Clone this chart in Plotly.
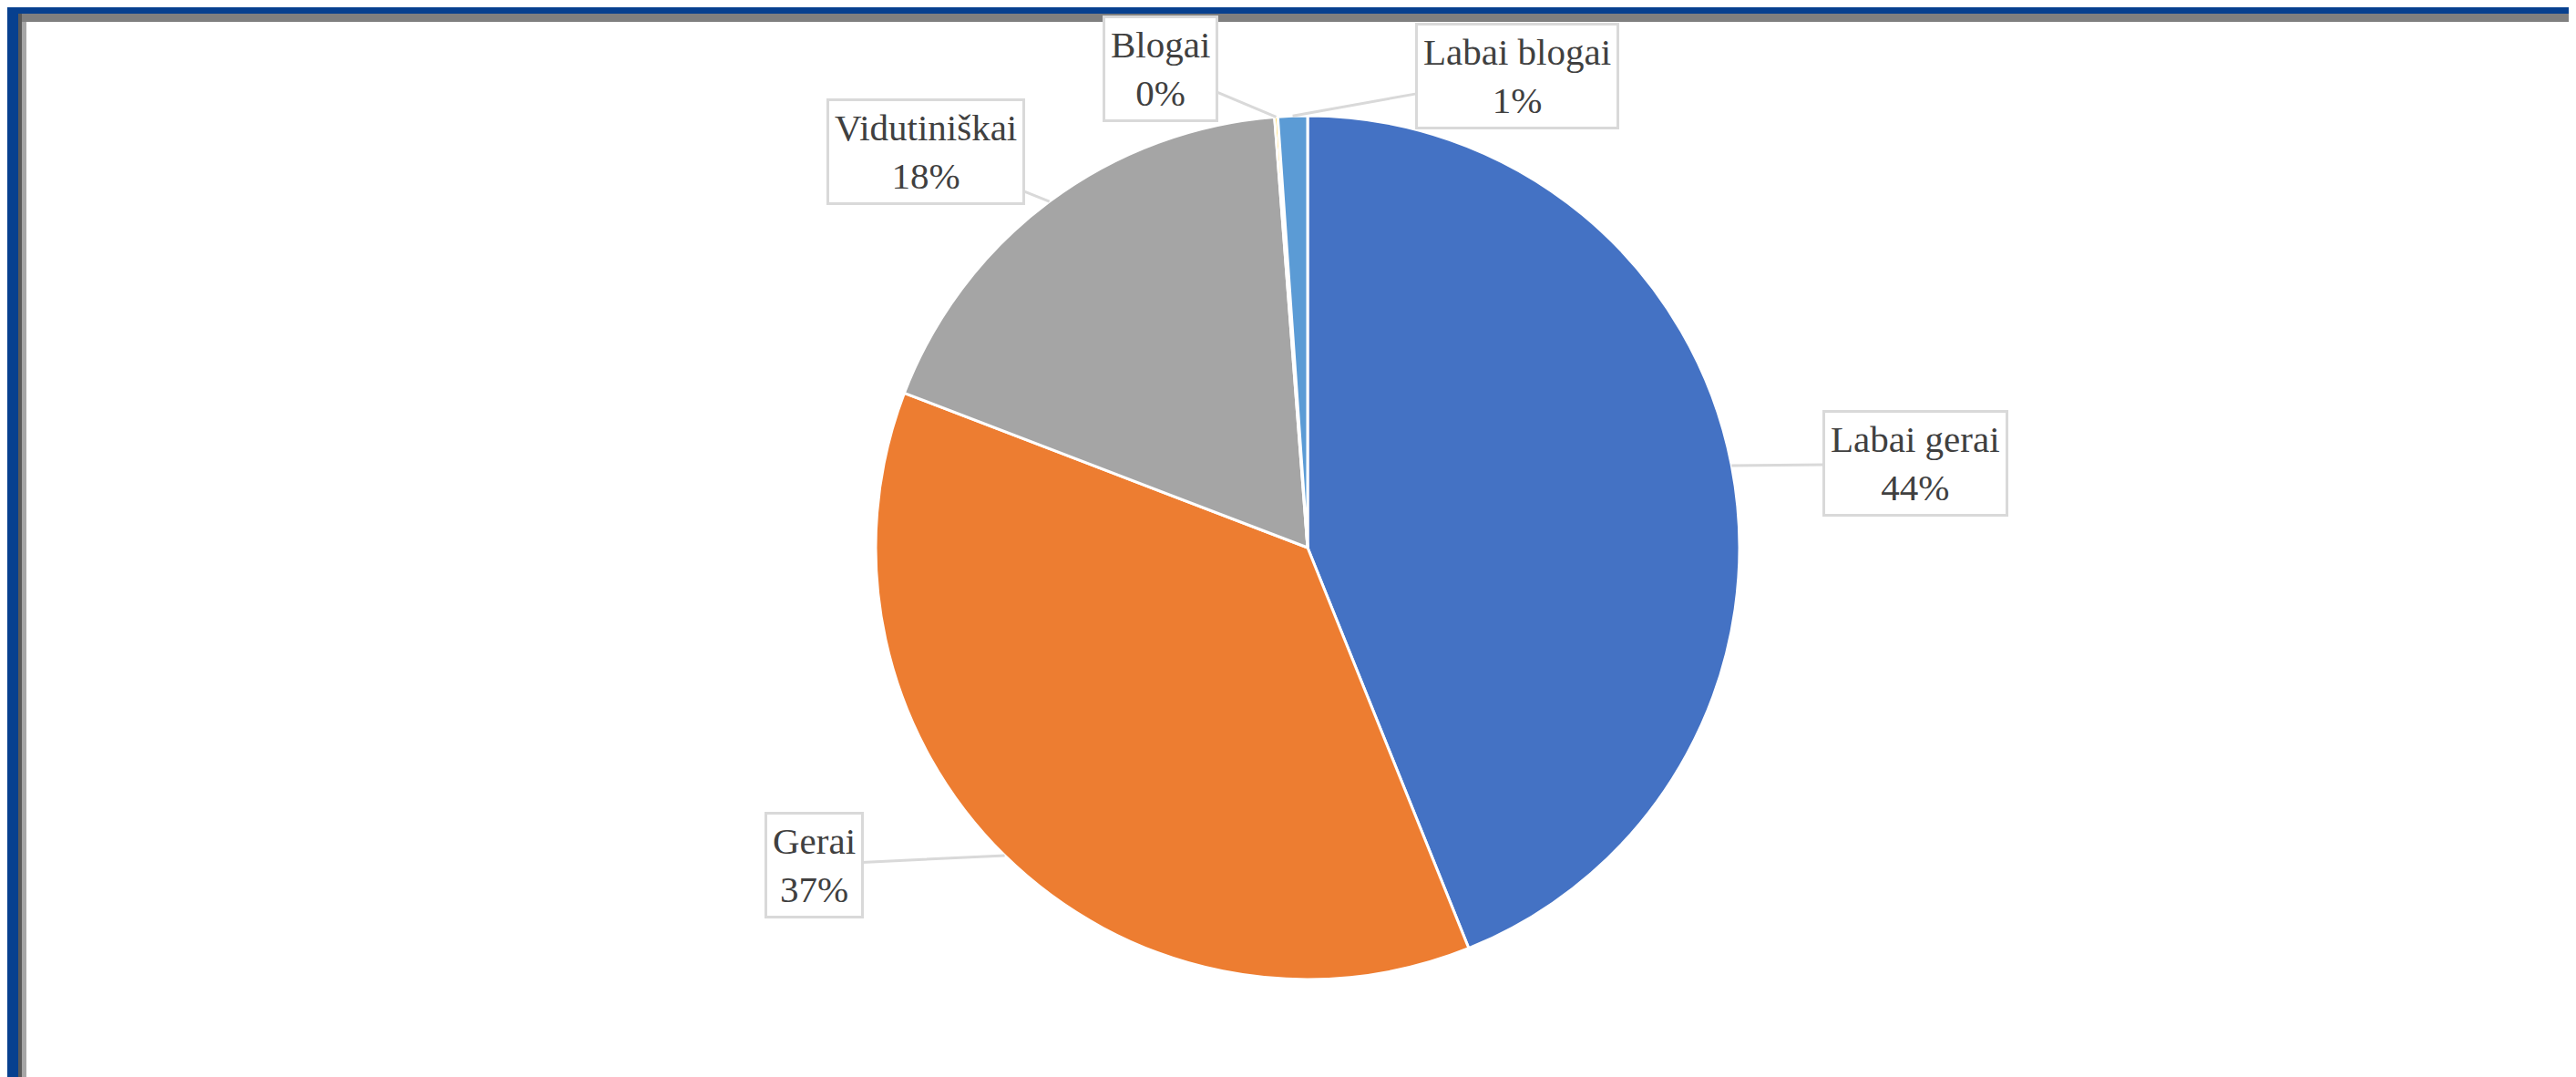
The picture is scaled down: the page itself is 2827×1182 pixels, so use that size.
import math
import plotly.graph_objects as go

# data (share of answers, %)
labels = ["Labai gerai", "Gerai", "Vidutiniškai", "Blogai", "Labai blogai"]
values = [43.9, 36.9, 17.95, 0.12, 1.1]
colors = ["#4472C4", "#ED7D31", "#A5A5A5", "#FFC000", "#5B9BD5"]

# layout (pixels, figure is 2827 x 1182)
W, H = 2827, 1182
CX, CY, R = 1427, 593, 474
label_xy = [(2094, 501), (885, 941), (1008, 159), (1265, 67), (1657, 75)]

fig = go.Figure()

fig.add_trace(go.Pie(
    labels=labels,
    values=values,
    sort=False,
    direction="clockwise",
    rotation=0,
    marker=dict(colors=colors, line=dict(color="white", width=3)),
    textinfo="none",
    hoverinfo="label+percent",
    domain=dict(x=[(CX - R) / W, (CX + R) / W], y=[1 - (CY + R) / H, 1 - (CY - R) / H]),
    showlegend=False,
))

# callout labels with leader lines to the middle of each slice
total = sum(values)
cum = 0
annotations = []
for lab, v, (bx, by) in zip(labels, values, label_xy):
    a = math.radians(360 * (cum + v / 2) / total)
    cum += v
    tx = CX + R * math.sin(a)
    ty = CY - R * math.cos(a)
    annotations.append(dict(
        x=tx / W, y=1 - ty / H, xref="paper", yref="paper",
        text=f"{lab}<br>{round(v / total * 100)}%",
        showarrow=True, arrowhead=0, arrowwidth=3, arrowcolor="#D9D9D9",
        ax=bx - tx, ay=by - ty,
        font=dict(family="Liberation Serif, Times New Roman, serif", size=41, color="#404040"),
        align="center",
        bgcolor="white", bordercolor="#D9D9D9", borderwidth=3, borderpad=6,
    ))

# window frame around the chart
def px_rect(x0, y0, x1, y1, color):
    return dict(type="rect", xref="paper", yref="paper",
                x0=x0 / W, x1=x1 / W, y0=1 - y1 / H, y1=1 - y0 / H,
                fillcolor=color, line=dict(width=0), layer="above")

shapes = [
    px_rect(0, 0, W, 7, "#07408F"),
    px_rect(12, 7, W, 16, "#7F7F7F"),
    px_rect(0, 0, 12, H, "#07408F"),
    px_rect(12, 7, 16, H, "#595959"),
    px_rect(16, 16, 21, H, "#A6A6A6"),
    px_rect(21, H - 2, W, H, "#C8C8C8"),
]

fig.update_layout(
    width=W, height=H,
    margin=dict(l=0, r=0, t=0, b=0),
    paper_bgcolor="white",
    plot_bgcolor="white",
    annotations=annotations,
    shapes=shapes,
)

fig.write_html("out.html")
